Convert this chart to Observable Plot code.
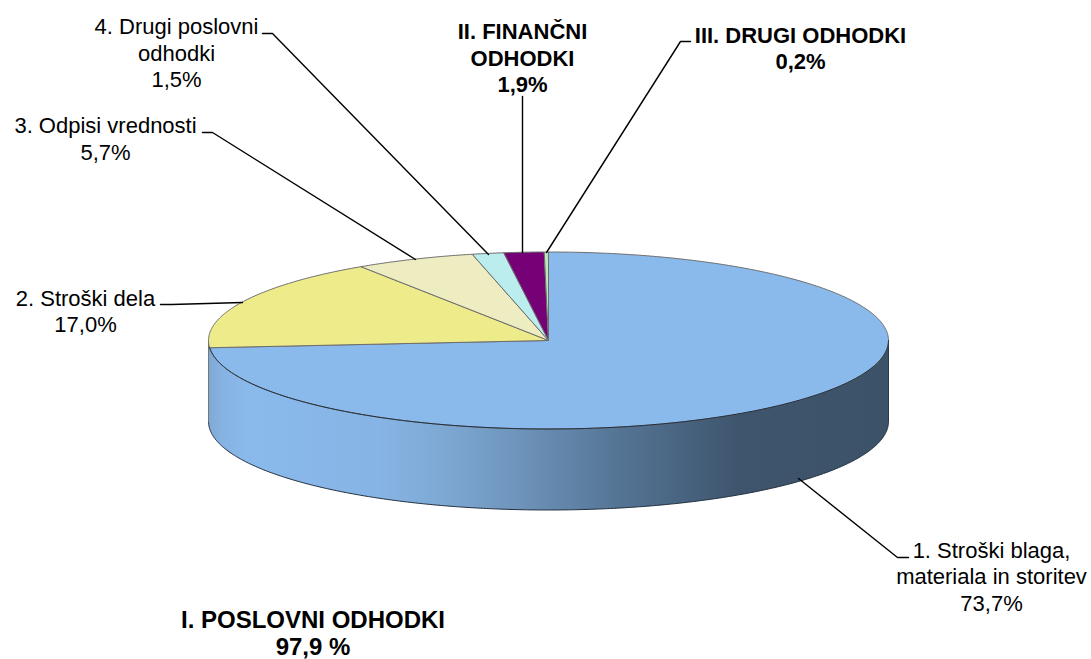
<!DOCTYPE html>
<html>
<head>
<meta charset="utf-8">
<style>html,body{margin:0;padding:0;background:#fff}svg{display:block}</style>
<script src="https://cdn.jsdelivr.net/npm/d3@7"></script>
<script src="https://cdn.jsdelivr.net/npm/@observablehq/plot@0.6"></script>
</head>
<body>
<script>
// Data
const categories = ["1. Stroški blaga, materiala in storitev","2. Stroški dela","3. Odpisi vrednosti","4. Drugi poslovni odhodki","II. FINANČNI ODHODKI","III. DRUGI ODHODKI"];
const shares = [73.7, 17.0, 5.7, 1.5, 1.9, 0.2];
const sliceColors = ["#8AB9EC","#EDEB8A","#EEEDC1","#BBEDEE","#760076","#BFE5BD"];
const labelTexts = [
  "1. Stroški blaga,\nmateriala in storitev\n73,7%",
  "2. Stroški dela\n17,0%",
  "3. Odpisi vrednosti\n5,7%",
  "4. Drugi poslovni\nodhodki\n1,5%",
  "II. FINANČNI\nODHODKI\n1,9%",
  "III. DRUGI ODHODKI\n0,2%"
];
const groupLabel = "I. POSLOVNI ODHODKI\n97,9 %";

// Layout
const W = 1091, H = 659;
const pie = {cx: 548, cy: 340, rx: 340, ry: 88.5, depth: 81};
const labelX = [991, 85, 105, 176, 522, 800];
const labelY = [575.5, 310, 137.5, 52, 57, 47];
const labelBold = [false, false, false, false, true, true];
const leaders = [
  [[798,478],[897,557],[908,557]],
  [[160,304],[171,304],[242,302]],
  [[202,132],[212,132],[415,259]],
  [[262,33],[272,33],[488,254]],
  [[522,96],[522,252]],
  [[690,41],[680,41],[546,252]]
];
const ell = (f, dy = 0) => {
  const t = 2 * Math.PI * f;
  return {x: pie.cx + pie.rx * Math.sin(t), y: pie.cy - pie.ry * Math.cos(t) + dy};
};
const arc = (f0, f1, dy = 0) => {
  const n = Math.max(2, Math.ceil(Math.abs(f1 - f0) * 720));
  return d3.range(n + 1).map(i => ell(f0 + (f1 - f0) * i / n, dy));
};
const total = d3.sum(shares);
const cum = d3.cumsum(shares).map(v => v / total);
const slices = shares.map((v, i) => {
  const f0 = i ? cum[i - 1] : 0, f1 = cum[i];
  const c = {x: pie.cx, y: pie.cy};
  return {color: sliceColors[i], pts: [c, ...arc(f0, f1), c]};
});
const side = [...arc(0.25, 0.75), ...arc(0.75, 0.25, pie.depth)];
const stops = [[0,"#7fa9d4"],[0.02,"#86b3e2"],[0.06,"#8ab9ec"],[0.25,"#86b4e4"],[0.34,"#7ea9d5"],[0.45,"#6f95bc"],[0.6,"#557596"],[0.78,"#3e556d"],[1,"#3c5268"]];

const defs = () => {
  const d = d3.create("svg:defs");
  const g = d.append("linearGradient").attr("id","sideGrad").attr("x1",0).attr("x2",1).attr("y1",0).attr("y2",0);
  stops.forEach(([o,c]) => g.append("stop").attr("offset",o).attr("stop-color",c));
  return d.node();
};
const textMark = (text, x, y, bold, size = 22, pitch = 26.5) => Plot.text([text], {
  x: () => x, y: () => y, text: d => d, fill: "#000", fontSize: size, lineHeight: pitch / size,
  fontWeight: bold ? "bold" : "normal", textAnchor: "middle", lineAnchor: "middle"
});

const svg = Plot.plot({
  width: W, height: H, margin: 0,
  x: {domain: [0, W], range: [0, W], axis: null},
  y: {domain: [0, H], range: [0, H], axis: null},
  style: {fontFamily: "'Liberation Sans', Arial, sans-serif", background: "#fff"},
  marks: [
    defs,
    Plot.line(side, {x: "x", y: "y", fill: "url(#sideGrad)", stroke: "none"}),
    Plot.line(arc(0.25, 0.75, pie.depth), {x: "x", y: "y", stroke: "#22303f", strokeWidth: 1}),
    Plot.line([ell(0.75), ell(0.75, pie.depth)], {x: "x", y: "y", stroke: "#777", strokeWidth: 1}),
    Plot.line([ell(0.25), ell(0.25, pie.depth)], {x: "x", y: "y", stroke: "#2b3a4a", strokeWidth: 1}),
    ...slices.map(s => Plot.line(s.pts, {x: "x", y: "y", fill: s.color, stroke: "#6e6e6e", strokeWidth: 1})),
    Plot.line(arc(0.25, 0.737), {x: "x", y: "y", stroke: "#1f2c3a", strokeWidth: 1}),
    ...leaders.map(l => Plot.line(l, {x: d => d[0], y: d => d[1], stroke: "#000", strokeWidth: 1.4})),
    ...labelTexts.map((t, i) => textMark(t, labelX[i], labelY[i], labelBold[i])),
    textMark(groupLabel, 312.5, 632.5, true, 24, 27)
  ]
});
svg.setAttribute("aria-label", "Struktura odhodkov: " + categories.join(", "));
document.body.appendChild(svg);
</script>
</body>
</html>
